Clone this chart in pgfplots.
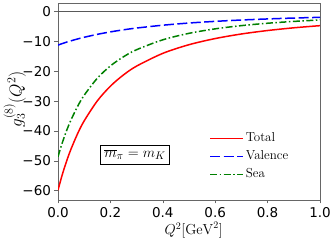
\documentclass[border=0pt]{standalone}
\usepackage{fontspec}
\usepackage{pgfplots}
\pgfplotsset{compat=1.18}
\newfontfamily\dejavu{DejaVu Sans}
\definecolor{mplgreen}{rgb}{0,0.5,0}
\begin{document}
\begin{tikzpicture}
\begin{axis}[
  scale only axis,
  width=262pt, height=197pt,
  xmin=0, xmax=1, ymin=-63.1, ymax=2.9,
  xtick={0,0.2,0.4,0.6,0.8,1.0},
  xticklabels={0.0,0.2,0.4,0.6,0.8,1.0},
  ytick={-60,-50,-40,-30,-20,-10,0},
  yticklabels={−60,−50,−40,−30,−20,−10,0},
  tick label style={font=\dejavu\fontsize{13.5}{16}\selectfont},
  tick align=outside,
  xtick pos=bottom, ytick pos=left,
  major tick length=3.5pt,
  axis line style={gray!80!black},
  tick style={gray!80!black, line width=0.6pt},
  xlabel={$Q^2[\mathrm{GeV}^2]$},
  ylabel={$g_3^{(8)}(Q^2)$},
  xlabel style={font=\fontsize{14.5}{16}\selectfont, at={(axis description cs:0.518,-0.153)}, anchor=center},
  ylabel style={font=\fontsize{17.5}{20}\selectfont, at={(axis description cs:-0.165,0.51)}, anchor=center},
  legend style={draw=none, fill=none, at={(0.565,0.37)}, anchor=north west,
    font=\fontsize{13}{15}\selectfont,
    nodes={inner ysep=1.5pt, text height=11pt, text depth=4pt}},
  legend cell align=left,
  legend image code/.code={\draw[#1, line width=1.6pt] (0pt,0pt) -- (26pt,0pt);
    \path (0pt,0pt) -- (33pt,0pt);},
]
\addlegendimage{red, line width=1.5pt}
\addlegendentry{Total}
\addlegendimage{blue, line width=1.5pt, dash pattern=on 10pt off 3.5pt}
\addlegendentry{Valence}
\addlegendimage{mplgreen, line width=1.5pt, dash pattern=on 7pt off 2.5pt on 1.5pt off 2.5pt}
\addlegendentry{Sea}
\addplot[red, line width=1.5pt, smooth, forget plot] coordinates {
(0,-59.8) (0.0125,-55.77) (0.025,-52.15) (0.0375,-48.90) (0.05,-45.96) (0.075,-40.84)
(0.1,-36.58) (0.15,-29.90) (0.2,-24.96) (0.25,-21.19) (0.3,-18.24) (0.4,-13.97)
(0.5,-11.07) (0.6,-9.01) (0.7,-7.48) (0.8,-6.32) (0.9,-5.41) (1.0,-4.69)};
\addplot[blue, line width=1.5pt, smooth, forget plot, dash pattern=on 10pt off 3.5pt] coordinates {
(0,-11.2) (0.0125,-10.81) (0.025,-10.44) (0.0375,-10.09) (0.05,-9.76) (0.075,-9.14)
(0.1,-8.58) (0.15,-7.60) (0.2,-6.78) (0.25,-6.08) (0.3,-5.49) (0.4,-4.54)
(0.5,-3.81) (0.6,-3.25) (0.7,-2.80) (0.8,-2.44) (0.9,-2.14) (1.0,-1.90)};
\addplot[mplgreen, line width=1.5pt, smooth, forget plot, dash pattern=on 7pt off 2.5pt on 1.5pt off 2.5pt] coordinates {
(0,-48.6) (0.0125,-44.96) (0.025,-41.71) (0.0375,-38.81) (0.05,-36.20) (0.075,-31.70)
(0.1,-28.00) (0.15,-22.30) (0.2,-18.18) (0.25,-15.11) (0.3,-12.75) (0.4,-9.43)
(0.5,-7.26) (0.6,-5.76) (0.7,-4.68) (0.8,-3.88) (0.9,-3.27) (1.0,-2.79)};
\addplot[gray!70!black, line width=0.8pt, forget plot] coordinates {(0,0) (1,0)};
\node[draw=black, line width=0.8pt, fill=white, inner sep=4pt, font=\fontsize{15.5}{17}\selectfont]
  at (axis cs:0.294,-47.9) {$\overline{m}_\pi = m_K$};
\end{axis}
\pgfresetboundingbox
\path[use as bounding box] (-58pt,-40pt) rectangle (276pt,200pt);
\end{tikzpicture}
\end{document}
